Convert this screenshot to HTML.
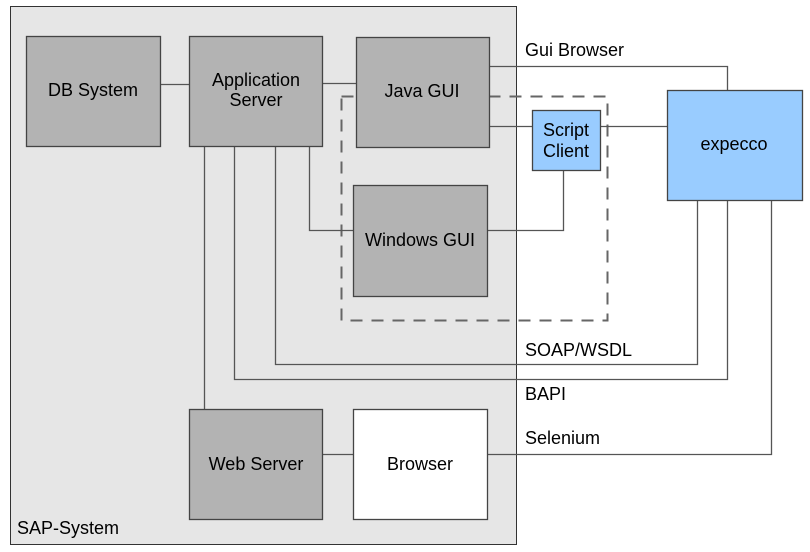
<!DOCTYPE html>
<html><head><meta charset="utf-8"><style>
html,body{margin:0;padding:0;background:#fff;}
svg{display:block;}
text{font-family:"Liberation Sans",sans-serif;font-size:18px;fill:#000;}
</style></head><body>
<svg width="810" height="552" viewBox="0 0 810 552" xmlns="http://www.w3.org/2000/svg">
<rect x="10.5" y="6.5" width="506" height="538" fill="#e6e6e6" stroke="#333" stroke-width="1"/>
<g fill="none" stroke="#555" stroke-width="1.3">
<rect x="341.5" y="96.5" width="266" height="224" stroke="#666" stroke-width="2" stroke-dasharray="12,9"/>
<line x1="160" y1="84.5" x2="189" y2="84.5"/>
<line x1="322" y1="83.5" x2="356" y2="83.5"/>
<polyline points="489,66.5 727.5,66.5 727.5,90"/>
<line x1="489" y1="126.5" x2="532" y2="126.5"/>
<line x1="600" y1="126.5" x2="667" y2="126.5"/>
<polyline points="563.5,170 563.5,230.5 487,230.5"/>
<polyline points="309.5,146 309.5,230.5 353,230.5"/>
<polyline points="275.5,146 275.5,364.5 697.5,364.5 697.5,200"/>
<polyline points="234.5,146 234.5,379.5 727.5,379.5 727.5,200"/>
<polyline points="487,454.5 771.5,454.5 771.5,200"/>
<line x1="204.5" y1="146" x2="204.5" y2="409"/>
<line x1="322" y1="454.5" x2="353" y2="454.5"/>
</g>
<g stroke="#444" stroke-width="1.3">
<rect x="26.5" y="36.5" width="134" height="110" fill="#b3b3b3"/>
<rect x="189.5" y="36.5" width="133" height="110" fill="#b3b3b3"/>
<rect x="356.5" y="37.5" width="133" height="110" fill="#b3b3b3"/>
<rect x="353.5" y="185.5" width="134" height="111" fill="#b3b3b3"/>
<rect x="532.5" y="110.5" width="68" height="60" fill="#99ccff"/>
<rect x="667.5" y="90.5" width="135" height="110" fill="#99ccff"/>
<rect x="189.5" y="409.5" width="133" height="110" fill="#b3b3b3"/>
<rect x="353.5" y="409.5" width="134" height="110" fill="#fff"/>
</g>
<g text-anchor="middle">
<text x="93" y="96">DB System</text>
<text x="256" y="86">Application</text>
<text x="256" y="106">Server</text>
<text x="422" y="97">Java GUI</text>
<text x="420" y="246">Windows GUI</text>
<text x="566" y="136">Script</text>
<text x="566" y="157">Client</text>
<text x="734" y="150">expecco</text>
<text x="256" y="470">Web Server</text>
<text x="420" y="470">Browser</text>
</g>
<text x="525" y="56">Gui Browser</text>
<text x="525" y="356">SOAP/WSDL</text>
<text x="525" y="400">BAPI</text>
<text x="525" y="444">Selenium</text>
<text x="17" y="534">SAP-System</text>
</svg>
</body></html>
